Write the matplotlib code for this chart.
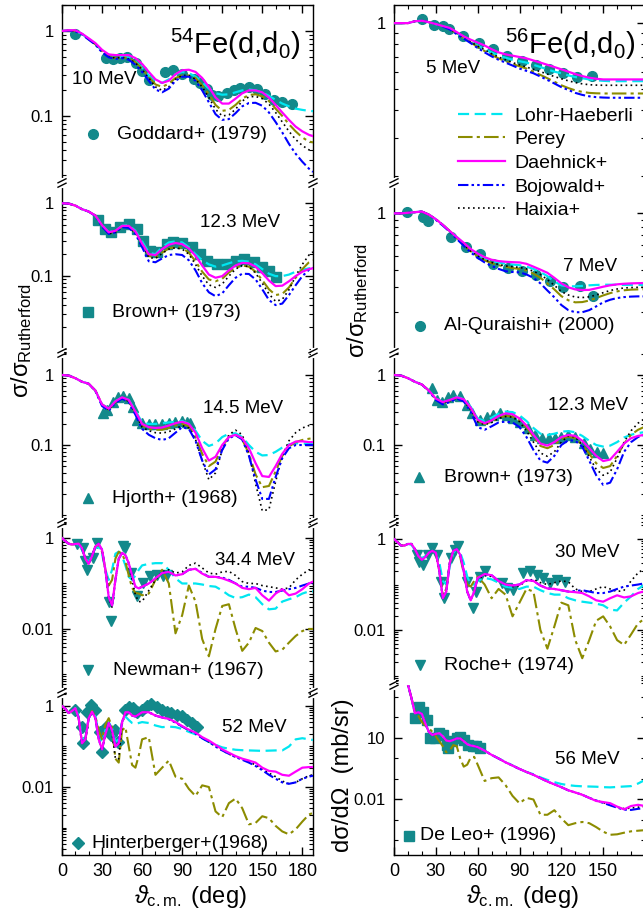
import numpy as np
import matplotlib
matplotlib.use("Agg")
import matplotlib.pyplot as plt
from matplotlib.lines import Line2D
from matplotlib.ticker import FixedLocator, FixedFormatter, LogLocator, NullFormatter, MultipleLocator

plt.rcParams['font.family'] = ['Liberation Sans', 'DejaVu Sans']
plt.rcParams['mathtext.fontset'] = 'custom'
plt.rcParams['mathtext.rm'] = 'Liberation Sans'
plt.rcParams['mathtext.it'] = 'Liberation Sans:italic'
plt.rcParams['mathtext.bf'] = 'Liberation Sans:bold'
plt.rcParams['axes.linewidth'] = 1.0

# ------------------------------------------------------------------ data
model_names = ["Lohr-Haeberli", "Perey", "Daehnick+", "Bojowald+", "Haixia+"]

ang_left = [0, 5, 10, 15, 20, 25, 30, 35, 40, 45, 50, 55, 60, 65, 70, 75, 80, 85, 90, 95,
            100, 105, 110, 115, 120, 125, 130, 135, 140, 145, 150, 155, 160, 165, 170, 175,
            180, 185, 188]
ang_right = [0, 5, 10, 15, 20, 25, 30, 35, 40, 45, 50, 55, 60, 65, 70, 75, 80, 85, 90, 95,
             100, 105, 110, 115, 120, 125, 130, 135, 140, 145, 150, 155, 160, 165, 170, 175, 180]
ang_left_fine = [0, 2.5, 5, 7.5, 10, 12.5, 15, 17.5, 20, 22.5, 25, 27.5, 30, 32.5, 35, 37.5, 40,
                 42.5, 45, 47.5, 50, 52.5, 55, 57.5, 60, 65, 70, 75, 80, 85, 90, 95, 100, 105,
                 110, 115, 120, 125, 130, 135, 140, 145, 150, 155, 160, 165, 170, 175, 180, 185, 188]
ang_right_fine = [0, 2.5, 5, 7.5, 10, 12.5, 15, 17.5, 20, 22.5, 25, 27.5, 30, 32.5, 35, 37.5, 40,
                  42.5, 45, 47.5, 50, 52.5, 55, 57.5, 60, 65, 70, 75, 80, 85, 90, 95, 100, 105,
                  110, 115, 120, 125, 130, 135, 140, 145, 150, 155, 160, 165, 170, 175, 180]

# --- 54Fe, 10 MeV
fe54_10_lohr = [1.0, 1.01, 1.0, 0.92, 0.8, 0.7, 0.58, 0.5, 0.49, 0.5, 0.49, 0.44, 0.37, 0.3, 0.255, 0.245, 0.27, 0.31, 0.33, 0.32,
                0.29, 0.25, 0.21, 0.185, 0.178, 0.18, 0.19, 0.2, 0.205, 0.2, 0.19, 0.172, 0.155, 0.14, 0.13, 0.122, 0.118, 0.115, 0.114]
fe54_10_perey = [1.0, 1.01, 1.0, 0.92, 0.8, 0.7, 0.58, 0.5, 0.48, 0.49, 0.48, 0.43, 0.36, 0.29, 0.235, 0.22, 0.24, 0.28, 0.3, 0.3,
                 0.28, 0.23, 0.18, 0.135, 0.115, 0.118, 0.135, 0.16, 0.177, 0.18, 0.17, 0.15, 0.122, 0.1, 0.08, 0.066, 0.056, 0.05, 0.049]
fe54_10_daeh = [1.0, 1.02, 1.02, 0.93, 0.82, 0.72, 0.6, 0.53, 0.52, 0.52, 0.52, 0.48, 0.41, 0.33, 0.27, 0.245, 0.26, 0.31, 0.345, 0.35,
                0.33, 0.28, 0.22, 0.165, 0.14, 0.14, 0.16, 0.185, 0.2, 0.2, 0.19, 0.165, 0.135, 0.11, 0.09, 0.075, 0.066, 0.06, 0.058]
fe54_10_boj = [1.0, 1.01, 0.99, 0.91, 0.79, 0.69, 0.56, 0.49, 0.47, 0.48, 0.46, 0.4, 0.33, 0.26, 0.205, 0.19, 0.21, 0.26, 0.29, 0.29,
               0.26, 0.2, 0.145, 0.105, 0.09, 0.092, 0.108, 0.13, 0.142, 0.143, 0.132, 0.11, 0.085, 0.064, 0.047, 0.036, 0.029, 0.024, 0.022]
fe54_10_hai = [1.0, 1.01, 1.0, 0.92, 0.8, 0.7, 0.57, 0.5, 0.48, 0.49, 0.47, 0.42, 0.35, 0.28, 0.22, 0.2, 0.22, 0.27, 0.3, 0.3,
               0.27, 0.22, 0.165, 0.12, 0.1, 0.103, 0.12, 0.15, 0.168, 0.17, 0.16, 0.138, 0.11, 0.085, 0.066, 0.053, 0.045, 0.04, 0.039]
fe54_10_exp_ang = [9.75, 33, 38.5, 43.5, 48.5, 55.5, 60, 65.5, 77, 83.5, 90, 98.5, 103.5, 108.5, 112, 117, 123.5,
                   128.5, 133.5, 140, 146, 152, 158.5, 165, 172]
fe54_10_exp_val = [0.93, 0.485, 0.47, 0.485, 0.494, 0.42, 0.335, 0.263, 0.33, 0.344, 0.315, 0.275, 0.244, 0.21, 0.175,
                   0.17, 0.186, 0.204, 0.215, 0.22, 0.21, 0.183, 0.156, 0.146, 0.137]

# --- 54Fe, 12.3 MeV
fe54_123_lohr = [1.0, 0.99, 0.93, 0.83, 0.77, 0.68, 0.5, 0.4, 0.42, 0.49, 0.5, 0.42, 0.3, 0.21, 0.2, 0.25, 0.29, 0.3, 0.29, 0.25,
                 0.2, 0.165, 0.145, 0.135, 0.14, 0.15, 0.16, 0.162, 0.158, 0.145, 0.125, 0.108, 0.1, 0.1, 0.105, 0.115, 0.122, 0.128, 0.13]
fe54_123_perey = [1.0, 0.99, 0.93, 0.83, 0.77, 0.68, 0.5, 0.39, 0.41, 0.48, 0.48, 0.4, 0.28, 0.19, 0.18, 0.21, 0.24, 0.25, 0.245, 0.21,
                  0.16, 0.115, 0.09, 0.085, 0.092, 0.112, 0.13, 0.14, 0.135, 0.115, 0.088, 0.066, 0.055, 0.057, 0.07, 0.095, 0.125, 0.155, 0.165]
fe54_123_daeh = [1.0, 0.99, 0.93, 0.83, 0.77, 0.68, 0.5, 0.4, 0.42, 0.49, 0.49, 0.41, 0.28, 0.2, 0.195, 0.235, 0.27, 0.285, 0.275, 0.24,
                 0.19, 0.14, 0.105, 0.095, 0.1, 0.12, 0.14, 0.152, 0.15, 0.135, 0.11, 0.087, 0.073, 0.074, 0.085, 0.1, 0.115, 0.125, 0.128]
fe54_123_boj = [1.0, 0.99, 0.93, 0.83, 0.77, 0.67, 0.48, 0.38, 0.4, 0.47, 0.46, 0.38, 0.25, 0.16, 0.155, 0.175, 0.195, 0.2, 0.195, 0.165,
                0.12, 0.08, 0.06, 0.053, 0.058, 0.075, 0.095, 0.108, 0.107, 0.09, 0.066, 0.047, 0.04, 0.042, 0.055, 0.075, 0.1, 0.122, 0.13]
fe54_123_hai = [1.0, 0.99, 0.93, 0.83, 0.77, 0.68, 0.49, 0.38, 0.4, 0.47, 0.47, 0.39, 0.27, 0.18, 0.175, 0.205, 0.235, 0.245, 0.235, 0.2,
                0.145, 0.1, 0.076, 0.07, 0.078, 0.1, 0.125, 0.14, 0.135, 0.11, 0.08, 0.057, 0.045, 0.048, 0.065, 0.1, 0.145, 0.195, 0.215]
fe54_123_exp_ang = [27, 32, 37, 43.5, 50, 56, 61, 66, 71, 78.5, 83.5, 90, 97, 103.5, 108.5, 116, 123.5, 130, 136, 143.5,
                    150, 155, 160]
fe54_123_exp_val = [0.585, 0.448, 0.40, 0.47, 0.526, 0.448, 0.308, 0.223, 0.212, 0.277, 0.292, 0.286, 0.249, 0.2, 0.162,
                    0.146, 0.146, 0.162, 0.171, 0.154, 0.135, 0.117, 0.098]

# --- 54Fe, 14.5 MeV
fe54_145_lohr = [1.0, 0.98, 0.9, 0.8, 0.75, 0.6, 0.38, 0.33, 0.42, 0.48, 0.44, 0.31, 0.21, 0.2, 0.2, 0.205, 0.21, 0.215, 0.22, 0.2,
                 0.16, 0.115, 0.097, 0.105, 0.13, 0.145, 0.147, 0.13, 0.1, 0.08, 0.071, 0.072, 0.08, 0.092, 0.102, 0.106, 0.105, 0.104, 0.104]
fe54_145_perey = [1.0, 0.98, 0.9, 0.8, 0.75, 0.6, 0.38, 0.32, 0.41, 0.47, 0.43, 0.29, 0.19, 0.17, 0.165, 0.165, 0.175, 0.19, 0.2, 0.185,
                  0.13, 0.075, 0.05, 0.058, 0.095, 0.13, 0.14, 0.12, 0.075, 0.038, 0.025, 0.026, 0.042, 0.07, 0.095, 0.11, 0.118, 0.123, 0.125]
fe54_145_daeh = [1.0, 0.98, 0.9, 0.8, 0.75, 0.6, 0.38, 0.33, 0.42, 0.48, 0.44, 0.3, 0.2, 0.18, 0.175, 0.178, 0.19, 0.205, 0.215, 0.2,
                 0.15, 0.09, 0.06, 0.068, 0.1, 0.13, 0.14, 0.125, 0.09, 0.055, 0.036, 0.035, 0.05, 0.075, 0.1, 0.112, 0.113, 0.11, 0.11]
fe54_145_boj = [1.0, 0.98, 0.9, 0.8, 0.75, 0.59, 0.36, 0.31, 0.4, 0.46, 0.41, 0.27, 0.17, 0.14, 0.125, 0.118, 0.125, 0.15, 0.18, 0.17,
                0.115, 0.06, 0.038, 0.045, 0.085, 0.125, 0.138, 0.12, 0.07, 0.032, 0.017, 0.017, 0.035, 0.065, 0.09, 0.1, 0.1, 0.1, 0.1]
fe54_145_hai = [1.0, 0.98, 0.9, 0.8, 0.75, 0.6, 0.37, 0.32, 0.41, 0.47, 0.42, 0.28, 0.18, 0.16, 0.15, 0.148, 0.155, 0.17, 0.19, 0.175,
                0.12, 0.06, 0.032, 0.04, 0.085, 0.14, 0.163, 0.14, 0.075, 0.028, 0.0115, 0.012, 0.03, 0.07, 0.115, 0.15, 0.175, 0.19, 0.195]
fe54_145_exp_ang = [31, 33.5, 38.5, 42, 46, 50, 53.5, 56.5, 60, 65, 70, 75, 80, 85, 90, 93.5, 96]
fe54_145_exp_val = [0.283, 0.316, 0.416, 0.48, 0.5, 0.464, 0.353, 0.228, 0.204, 0.2, 0.2, 0.2, 0.204, 0.215, 0.22, 0.215, 0.204]

# --- 54Fe, 34.4 MeV
fe54_344_lohr = [1.0, 0.85, 0.75, 0.72, 0.74, 0.72, 0.55, 0.35, 0.3, 0.42, 0.6, 0.65, 0.45, 0.2, 0.12, 0.2, 0.45, 0.5, 0.4, 0.25,
                 0.14, 0.12, 0.15, 0.2, 0.25,
                 0.27, 0.28, 0.28, 0.2, 0.13, 0.1, 0.1, 0.1, 0.095, 0.088, 0.085, 0.07, 0.055, 0.048, 0.05, 0.057, 0.05, 0.035,
                 0.027, 0.028, 0.04, 0.045, 0.05, 0.06, 0.067, 0.067]
fe54_344_perey = [1.0, 0.85, 0.75, 0.72, 0.74, 0.75, 0.6, 0.35, 0.27, 0.4, 0.65, 0.72, 0.5, 0.2, 0.09, 0.12, 0.35, 0.5, 0.45, 0.3,
                  0.15, 0.08, 0.062, 0.06, 0.055,
                  0.06, 0.12, 0.2, 0.1, 0.008, 0.02, 0.09, 0.04, 0.006, 0.0025, 0.01, 0.032, 0.035, 0.01, 0.0033, 0.005, 0.0105,
                  0.009, 0.005, 0.0032, 0.0035, 0.005, 0.007, 0.009, 0.01, 0.01]
fe54_344_daeh = [1.0, 0.85, 0.75, 0.72, 0.74, 0.75, 0.6, 0.35, 0.27, 0.4, 0.65, 0.75, 0.55, 0.2, 0.05, 0.033, 0.12, 0.35, 0.47, 0.42,
                 0.28, 0.15, 0.085, 0.078, 0.085,
                 0.1, 0.13, 0.17, 0.18, 0.15, 0.16, 0.2, 0.21, 0.165, 0.14, 0.14, 0.13, 0.115, 0.1, 0.08, 0.075, 0.08, 0.055,
                 0.042, 0.06, 0.075, 0.055, 0.06, 0.075, 0.1, 0.11]
fe54_344_boj = [1.0, 0.85, 0.75, 0.72, 0.74, 0.75, 0.6, 0.35, 0.27, 0.4, 0.65, 0.75, 0.55, 0.2, 0.05, 0.033, 0.12, 0.35, 0.47, 0.42,
                0.28, 0.15, 0.085, 0.078, 0.085,
                0.1, 0.13, 0.17, 0.18, 0.15, 0.16, 0.2, 0.21, 0.17, 0.14, 0.14, 0.135, 0.12, 0.1, 0.085, 0.085, 0.08, 0.07,
                0.065, 0.065, 0.07, 0.075, 0.08, 0.09, 0.1, 0.1]
fe54_344_hai = [1.0, 0.85, 0.75, 0.72, 0.74, 0.75, 0.6, 0.35, 0.26, 0.4, 0.65, 0.75, 0.55, 0.2, 0.045, 0.03, 0.12, 0.35, 0.47, 0.42,
                0.25, 0.12, 0.055, 0.04, 0.04,
                0.07, 0.12, 0.18, 0.2, 0.17, 0.18, 0.25, 0.28, 0.22, 0.17, 0.16, 0.18, 0.185, 0.15, 0.11, 0.1, 0.1, 0.09,
                0.085, 0.08, 0.075, 0.08, 0.12, 0.16, 0.2, 0.2]
fe54_344_exp_ang = [11.5, 16, 17, 19, 23, 26, 35, 37, 45.5, 47, 52, 56, 61, 66, 71, 76, 78.5]
fe54_344_exp_val = [0.75, 0.6, 0.307, 0.2, 0.363, 0.776, 0.04, 0.0147, 0.656, 0.6, 0.17, 0.052, 0.1, 0.144, 0.156, 0.144, 0.156]

# --- 54Fe, 52 MeV
fe54_52_lohr = [1.0, 0.85, 0.67, 0.75, 0.88, 0.55, 0.15, 0.17, 0.5, 0.7, 0.55, 0.2, 0.12, 0.25, 0.4, 0.28, 0.13, 0.15, 0.4, 0.55,
                0.45, 0.38, 0.36, 0.38, 0.4,
                0.38, 0.33, 0.3, 0.31, 0.3, 0.27, 0.23, 0.2, 0.16, 0.13, 0.11, 0.095, 0.088, 0.083, 0.081, 0.08, 0.079, 0.078,
                0.079, 0.08, 0.08, 0.1, 0.15, 0.16, 0.15, 0.145]
fe54_52_perey = [1.0, 0.85, 0.67, 0.75, 0.88, 0.5, 0.12, 0.15, 0.5, 0.75, 0.55, 0.25, 0.15, 0.35, 0.5, 0.3, 0.05, 0.04, 0.25, 0.3,
                 0.1, 0.035, 0.03, 0.06, 0.15,
                 0.17, 0.02, 0.03, 0.045, 0.018, 0.016, 0.009, 0.006, 0.011, 0.01, 0.0025, 0.0018, 0.004, 0.0052, 0.003, 0.0012,
                 0.0013, 0.0019, 0.0017, 0.0011, 0.0008, 0.00068, 0.0009, 0.0014, 0.0021, 0.0023]
fe54_52_daeh = [1.0, 0.85, 0.67, 0.75, 0.88, 0.5, 0.12, 0.15, 0.5, 0.72, 0.5, 0.15, 0.085, 0.2, 0.38, 0.25, 0.1, 0.12, 0.4, 0.7,
                0.7, 0.58, 0.55, 0.62, 0.7,
                0.7, 0.58, 0.52, 0.48, 0.4, 0.32, 0.26, 0.22, 0.17, 0.14, 0.11, 0.085, 0.07, 0.058, 0.05, 0.045, 0.04, 0.03,
                0.025, 0.024, 0.02, 0.019, 0.024, 0.03, 0.031, 0.031]
fe54_52_boj = [1.0, 0.85, 0.67, 0.75, 0.88, 0.5, 0.12, 0.15, 0.5, 0.72, 0.5, 0.15, 0.085, 0.2, 0.38, 0.25, 0.1, 0.12, 0.4, 0.7,
               0.7, 0.58, 0.55, 0.62, 0.7,
               0.7, 0.58, 0.52, 0.47, 0.39, 0.31, 0.25, 0.21, 0.16, 0.13, 0.1, 0.08, 0.066, 0.055, 0.047, 0.04, 0.033, 0.026,
               0.02, 0.016, 0.013, 0.012, 0.013, 0.016, 0.018, 0.019]
fe54_52_hai = [1.0, 0.85, 0.67, 0.75, 0.88, 0.5, 0.12, 0.15, 0.5, 0.72, 0.5, 0.15, 0.08, 0.2, 0.38, 0.22, 0.05, 0.05, 0.35, 0.68,
               0.7, 0.58, 0.55, 0.62, 0.7,
               0.7, 0.58, 0.52, 0.47, 0.39, 0.31, 0.25, 0.21, 0.16, 0.13, 0.1, 0.08, 0.065, 0.055, 0.048, 0.042, 0.035, 0.028,
               0.022, 0.018, 0.014, 0.012, 0.013, 0.016, 0.019, 0.02]
fe54_52_exp_ang = [10, 15, 15.5, 19, 21.5, 25, 28.5, 30, 33, 37, 40, 42, 47, 50, 53, 56, 60, 63.5, 67, 71, 75, 78.5,
                   82, 86, 90, 93.5, 97, 101]
fe54_52_exp_val = [0.8, 0.31, 0.12, 0.72, 1.06, 0.8, 0.23, 0.075, 0.31, 0.19, 0.26, 0.13, 0.8, 0.96, 0.88, 0.72, 0.8, 1.0,
                   1.1, 0.93, 0.8, 0.72, 0.66, 0.6, 0.55, 0.45, 0.375, 0.31]

# --- 56Fe, 5 MeV
fe56_5_lohr = [1.0, 1.0, 1.0, 1.02, 1.025, 1.01, 0.99, 0.97, 0.94, 0.9, 0.86, 0.82, 0.79, 0.76, 0.735, 0.71, 0.695, 0.68, 0.67,
               0.66, 0.645, 0.63, 0.615, 0.6, 0.59, 0.577, 0.567, 0.56, 0.553, 0.548, 0.545, 0.543, 0.543, 0.543, 0.543, 0.543, 0.543]
fe56_5_perey = [1.0, 1.0, 1.0, 1.02, 1.025, 1.01, 0.99, 0.97, 0.94, 0.9, 0.855, 0.815, 0.78, 0.745, 0.715, 0.69, 0.67, 0.65, 0.635,
                0.62, 0.6, 0.58, 0.56, 0.54, 0.52, 0.505, 0.493, 0.485, 0.48, 0.478, 0.477, 0.477, 0.477, 0.477, 0.477, 0.477, 0.477]
fe56_5_daeh = [1.0, 1.0, 1.0, 1.02, 1.025, 1.01, 0.99, 0.97, 0.95, 0.91, 0.87, 0.84, 0.815, 0.79, 0.76, 0.735, 0.72, 0.71, 0.7,
               0.69, 0.675, 0.66, 0.645, 0.63, 0.615, 0.6, 0.585, 0.573, 0.563, 0.557, 0.553, 0.553, 0.553, 0.553, 0.553, 0.553, 0.553]
fe56_5_boj = [1.0, 1.0, 1.0, 1.02, 1.025, 1.01, 0.99, 0.965, 0.935, 0.89, 0.85, 0.81, 0.77, 0.735, 0.705, 0.68, 0.66, 0.64, 0.62,
              0.605, 0.59, 0.57, 0.55, 0.53, 0.51, 0.495, 0.48, 0.47, 0.463, 0.459, 0.457, 0.456, 0.456, 0.456, 0.456, 0.456, 0.456]
fe56_5_hai = [1.0, 1.0, 1.0, 1.02, 1.025, 1.01, 0.99, 0.97, 0.94, 0.9, 0.86, 0.82, 0.785, 0.755, 0.725, 0.7, 0.68, 0.66, 0.645,
              0.63, 0.615, 0.6, 0.585, 0.57, 0.557, 0.545, 0.535, 0.528, 0.523, 0.521, 0.52, 0.52, 0.52, 0.52, 0.52, 0.52, 0.52]
fe56_5_exp_ang = [19.9, 28.7, 35, 39.7, 49.8, 61, 70.8, 81.3, 91.6, 101.9, 111.5, 121.5, 131, 141.9]
fe56_5_exp_val = [1.04, 0.979, 0.969, 0.936, 0.872, 0.808, 0.758, 0.707, 0.67, 0.643, 0.617, 0.593, 0.569, 0.573]

# --- 56Fe, 7 MeV
fe56_7_lohr = [1.0, 1.0, 1.01, 1.02, 1.03, 0.98, 0.91, 0.83, 0.75, 0.68, 0.61, 0.55, 0.51, 0.48, 0.46, 0.45, 0.44, 0.435, 0.43,
               0.42, 0.405, 0.385, 0.36, 0.33, 0.31, 0.305, 0.305, 0.307, 0.31, 0.312, 0.313, 0.313, 0.313, 0.312, 0.312, 0.312, 0.312]
fe56_7_perey = [1.0, 1.0, 1.01, 1.02, 1.03, 0.98, 0.91, 0.83, 0.75, 0.67, 0.6, 0.54, 0.495, 0.465, 0.445, 0.43, 0.42, 0.41, 0.405,
                0.395, 0.375, 0.35, 0.32, 0.29, 0.26, 0.243, 0.235, 0.236, 0.242, 0.252, 0.263, 0.273, 0.281, 0.286, 0.289, 0.29, 0.291]
fe56_7_daeh = [1.0, 1.0, 1.01, 1.02, 1.03, 0.98, 0.91, 0.83, 0.75, 0.68, 0.62, 0.56, 0.52, 0.49, 0.47, 0.46, 0.455, 0.452, 0.45,
               0.44, 0.42, 0.4, 0.38, 0.35, 0.32, 0.3, 0.29, 0.287, 0.288, 0.295, 0.303, 0.31, 0.315, 0.318, 0.32, 0.321, 0.322]
fe56_7_boj = [1.0, 1.0, 1.01, 1.02, 1.03, 0.98, 0.9, 0.82, 0.74, 0.66, 0.59, 0.53, 0.485, 0.45, 0.425, 0.405, 0.39, 0.385, 0.383,
              0.37, 0.35, 0.32, 0.285, 0.255, 0.225, 0.207, 0.2, 0.2, 0.207, 0.22, 0.235, 0.245, 0.252, 0.256, 0.258, 0.259, 0.259]
fe56_7_hai = [1.0, 1.0, 1.01, 1.02, 1.03, 0.98, 0.91, 0.83, 0.75, 0.67, 0.6, 0.54, 0.5, 0.47, 0.45, 0.435, 0.425, 0.42, 0.415,
              0.405, 0.39, 0.37, 0.34, 0.31, 0.28, 0.265, 0.256, 0.254, 0.257, 0.265, 0.275, 0.285, 0.292, 0.297, 0.299, 0.3, 0.3]
fe56_7_exp_ang = [9.1, 20.6, 24.6, 40.7, 51.4, 61.7, 71.3, 82, 91.6, 101.9, 112, 121.5, 133.5, 142.6]
fe56_7_exp_val = [1.03, 0.947, 0.88, 0.68, 0.578, 0.518, 0.44, 0.409, 0.394, 0.367, 0.334, 0.304, 0.307, 0.261]

# --- 56Fe, 12.3 MeV
fe56_123_lohr = [1.0, 0.98, 0.9, 0.8, 0.73, 0.6, 0.46, 0.41, 0.44, 0.48, 0.46, 0.35, 0.24, 0.22, 0.245, 0.28, 0.3, 0.295, 0.265,
                 0.22, 0.175, 0.145, 0.139, 0.145, 0.155, 0.158, 0.152, 0.135, 0.115, 0.1, 0.095, 0.098, 0.11, 0.128, 0.14, 0.148, 0.153]
fe56_123_perey = [1.0, 0.98, 0.9, 0.8, 0.73, 0.6, 0.45, 0.4, 0.43, 0.47, 0.44, 0.33, 0.22, 0.2, 0.215, 0.245, 0.26, 0.255, 0.225,
                  0.18, 0.13, 0.097, 0.09, 0.1, 0.122, 0.132, 0.125, 0.1, 0.075, 0.055, 0.047, 0.05, 0.07, 0.105, 0.14, 0.165, 0.183]
fe56_123_daeh = [1.0, 0.98, 0.9, 0.8, 0.73, 0.6, 0.46, 0.41, 0.44, 0.48, 0.45, 0.34, 0.23, 0.205, 0.225, 0.26, 0.283, 0.275, 0.24,
                 0.19, 0.14, 0.105, 0.098, 0.11, 0.13, 0.139, 0.135, 0.115, 0.09, 0.07, 0.059, 0.062, 0.08, 0.105, 0.125, 0.135, 0.14]
fe56_123_boj = [1.0, 0.98, 0.9, 0.8, 0.73, 0.59, 0.44, 0.38, 0.41, 0.46, 0.42, 0.3, 0.18, 0.165, 0.185, 0.21, 0.216, 0.21, 0.18,
                0.13, 0.085, 0.06, 0.056, 0.07, 0.1, 0.117, 0.115, 0.095, 0.06, 0.037, 0.027, 0.029, 0.045, 0.08, 0.11, 0.13, 0.14]
fe56_123_hai = [1.0, 0.98, 0.9, 0.8, 0.73, 0.6, 0.45, 0.4, 0.43, 0.47, 0.43, 0.32, 0.215, 0.195, 0.21, 0.24, 0.255, 0.25, 0.215,
                0.16, 0.11, 0.077, 0.069, 0.08, 0.11, 0.135, 0.13, 0.1, 0.068, 0.045, 0.037, 0.041, 0.065, 0.11, 0.16, 0.205, 0.24]
fe56_123_exp_ang = [27, 30.6, 34.2, 39, 42.6, 47.4, 52.2, 55.7, 61.7, 66.5, 71.3, 76, 81, 85.6, 90.4, 96.4, 101, 106,
                    110.8, 115.5, 120, 125, 130, 136, 140.7, 145.5, 150]
fe56_123_exp_val = [0.645, 0.44, 0.416, 0.49, 0.518, 0.501, 0.373, 0.283, 0.228, 0.254, 0.268, 0.283, 0.268, 0.24, 0.215,
                    0.173, 0.139, 0.125, 0.125, 0.125, 0.132, 0.139, 0.132, 0.106, 0.087, 0.08, 0.076]

# --- 56Fe, 30 MeV
fe56_30_lohr = [1.0, 0.85, 0.72, 0.72, 0.78, 0.75, 0.58, 0.42, 0.38, 0.42, 0.5, 0.55, 0.5, 0.3, 0.12, 0.1, 0.25, 0.5, 0.6, 0.5,
                0.3, 0.15, 0.1, 0.1, 0.12,
                0.14, 0.13, 0.11, 0.09, 0.085, 0.08, 0.09, 0.09, 0.075, 0.065, 0.06, 0.06, 0.05, 0.045, 0.042, 0.04, 0.038,
                0.035, 0.028, 0.027, 0.04, 0.055, 0.08, 0.1]
fe56_30_perey = [1.0, 0.85, 0.72, 0.72, 0.78, 0.78, 0.6, 0.42, 0.35, 0.4, 0.5, 0.55, 0.5, 0.2, 0.06, 0.08, 0.3, 0.55, 0.6, 0.4,
                 0.18, 0.1, 0.09, 0.12, 0.15,
                 0.1, 0.05, 0.08, 0.06, 0.02, 0.04, 0.08, 0.07, 0.01, 0.0039, 0.012, 0.04, 0.035, 0.006, 0.0024, 0.006, 0.016,
                 0.02, 0.012, 0.006, 0.0047, 0.008, 0.014, 0.018]
fe56_30_daeh = [1.0, 0.85, 0.72, 0.72, 0.78, 0.78, 0.6, 0.42, 0.35, 0.4, 0.5, 0.55, 0.5, 0.2, 0.05, 0.07, 0.3, 0.55, 0.6, 0.45,
                0.2, 0.07, 0.045, 0.07, 0.14,
                0.17, 0.16, 0.12, 0.1, 0.095, 0.1, 0.125, 0.12, 0.095, 0.082, 0.08, 0.075, 0.07, 0.068, 0.065, 0.055, 0.045,
                0.042, 0.05, 0.058, 0.052, 0.055, 0.065, 0.072]
fe56_30_boj = [1.0, 0.85, 0.72, 0.72, 0.78, 0.78, 0.6, 0.42, 0.35, 0.4, 0.5, 0.55, 0.5, 0.2, 0.05, 0.07, 0.3, 0.55, 0.6, 0.45,
               0.2, 0.07, 0.045, 0.07, 0.14,
               0.17, 0.16, 0.12, 0.1, 0.095, 0.1, 0.125, 0.12, 0.095, 0.082, 0.08, 0.075, 0.07, 0.072, 0.075, 0.07, 0.065,
               0.065, 0.07, 0.08, 0.09, 0.095, 0.1, 0.107]
fe56_30_hai = [1.0, 0.85, 0.72, 0.72, 0.78, 0.78, 0.6, 0.42, 0.35, 0.4, 0.5, 0.55, 0.5, 0.2, 0.05, 0.07, 0.3, 0.55, 0.6, 0.45,
               0.2, 0.07, 0.045, 0.07, 0.13,
               0.16, 0.15, 0.12, 0.1, 0.09, 0.095, 0.12, 0.13, 0.11, 0.1, 0.11, 0.12, 0.115, 0.08, 0.07, 0.07, 0.08,
               0.09, 0.08, 0.07, 0.075, 0.12, 0.18, 0.23]
fe56_30_exp_ang = [16.3, 18.2, 21, 24.6, 27, 31, 33.5, 35.9, 40.7, 43.8, 46.2, 52.2, 56.5, 58.9, 61.7, 65.3, 77.3, 80.9,
                   85.6, 92.8, 97.6, 102.4, 107.2, 112, 116.7, 122.7]
fe56_30_exp_val = [0.45, 0.32, 0.27, 0.45, 0.63, 0.45, 0.116, 0.05, 0.38, 0.58, 0.69, 0.116, 0.03, 0.07, 0.15, 0.194, 0.107,
                   0.083, 0.076, 0.178, 0.194, 0.163, 0.138, 0.107, 0.127, 0.116]

# --- 56Fe, 56 MeV (absolute, mb/sr)
fe56_56_lohr = [1e4, 1e4, 1e4, 1e4, 4000, 900, 160, 180, 150, 50, 20, 14, 16, 17, 12, 7.5, 7, 8, 9.5, 9.5, 7, 5, 4.3, 4, 3.6,
                2.4, 1.5, 1.0, 0.68, 0.46, 0.3, 0.22, 0.17, 0.12, 0.09, 0.07, 0.057, 0.05, 0.046, 0.044, 0.043, 0.042, 0.04,
                0.039, 0.041, 0.043, 0.045, 0.06, 0.09]
fe56_56_perey = [1e4, 1e4, 1e4, 1e4, 4000, 900, 200, 120, 60, 40, 30, 20, 12, 7, 4, 2, 2.5, 4.5, 4, 1, 0.4, 0.5, 1.1, 1.2, 0.5,
                 0.08, 0.11, 0.12, 0.05, 0.015, 0.0065, 0.012, 0.01, 0.0018, 0.0018, 0.003, 0.0012, 0.00056, 0.0007, 0.0008,
                 0.0007, 0.00045, 0.00027, 0.00019, 0.0002, 0.00024, 0.00028, 0.0003, 0.00032]
fe56_56_daeh = [1e4, 1e4, 1e4, 1e4, 4000, 900, 160, 180, 150, 50, 20, 14, 16, 17, 12, 7.5, 7, 8, 9.5, 9.5, 7, 5, 4.3, 4, 3.6,
                2.4, 1.5, 1.0, 0.65, 0.45, 0.31, 0.22, 0.16, 0.11, 0.075, 0.055, 0.04, 0.028, 0.022, 0.017, 0.012, 0.0085,
                0.0075, 0.0066, 0.0045, 0.0033, 0.0048, 0.0055, 0.0048]
fe56_56_boj = [1e4, 1e4, 1e4, 1e4, 4000, 900, 160, 180, 150, 50, 20, 14, 16, 17, 12, 7.5, 7, 8, 9.5, 9.5, 7, 5, 4.3, 4, 3.6,
               2.4, 1.5, 1.0, 0.65, 0.45, 0.31, 0.22, 0.16, 0.11, 0.075, 0.055, 0.04, 0.028, 0.022, 0.017, 0.012, 0.009,
               0.0068, 0.0052, 0.004, 0.0032, 0.0031, 0.0035, 0.0038]
fe56_56_hai = [1e4, 1e4, 1e4, 1e4, 4000, 900, 160, 180, 150, 50, 20, 14, 16, 17, 12, 7.5, 7, 8, 9.5, 9.5, 7, 5, 4.3, 4, 3.6,
               2.4, 1.5, 1.0, 0.65, 0.45, 0.31, 0.22, 0.16, 0.11, 0.075, 0.055, 0.04, 0.028, 0.022, 0.017, 0.012, 0.009,
               0.007, 0.0055, 0.0042, 0.0036, 0.0038, 0.0042, 0.0045]
fe56_56_exp_ang = [15, 18, 21, 24, 26, 29.4, 32.5, 35.4, 37.8, 39, 41.4, 45, 47.4, 50, 53.3, 56.5, 59, 62]
fe56_56_exp_val = [92, 335, 190, 76, 10, 10, 17.4, 14.5, 4.8, 3.3, 6.9, 10, 11, 8.3, 4.8, 4, 4.3, 3.3]

energy_labels = ["10 MeV", "12.3 MeV", "14.5 MeV", "34.4 MeV", "52 MeV",
                 "5 MeV", "7 MeV", "12.3 MeV", "30 MeV", "56 MeV"]
exp_labels = ["Goddard+ (1979)", "Brown+ (1973)", "Hjorth+ (1968)", "Newman+ (1967)", "Hinterberger+(1968)",
              "Al-Quraishi+ (2000)", "Brown+ (1973)", "Roche+ (1974)", "De Leo+ (1996)"]

# ------------------------------------------------------------------ figure
W, H = 643, 914
fig = plt.figure(figsize=(W / 100, H / 100), dpi=100)

TEAL = '#13898b'
styles = {
    'lohr': dict(color='#00e6f0', lw=1.6, dashes=(5, 2.5), zorder=3),
    'perey': dict(color='#8c8c00', lw=1.5, dashes=(7, 2, 1.5, 2), zorder=3),
    'hai': dict(color='black', lw=1.2, dashes=(1, 2), zorder=4),
    'boj': dict(color='#0000ff', lw=1.5, dashes=(5, 1.5, 1.2, 1.5, 1.2, 1.5), zorder=5),
    'daeh': dict(color='#ff00ff', lw=1.6, ls='-', zorder=6),
}
order = ['lohr', 'perey', 'hai', 'boj', 'daeh']

panels = [
    (62, 5, 183, 188, (0.0163, 2.02), [1, 0.1], ['1', '0.1'], 'all', ang_left,
     dict(lohr=fe54_10_lohr, perey=fe54_10_perey, daeh=fe54_10_daeh, boj=fe54_10_boj, hai=fe54_10_hai),
     (fe54_10_exp_ang, fe54_10_exp_val), 'o', 7, 0, (0.04, 0.58), 0, (0.124, 0.275), (0.22, 0.275)),
    (62, 183, 353, 188, (0.0088, 1.9), [1, 0.1], ['1', '0.1'], 'all', ang_left,
     dict(lohr=fe54_123_lohr, perey=fe54_123_perey, daeh=fe54_123_daeh, boj=fe54_123_boj, hai=fe54_123_hai),
     (fe54_123_exp_ang, fe54_123_exp_val), 's', 6.5, 1, (0.55, 0.765), 1, (0.104, 0.241), (0.2, 0.241)),
    (62, 353, 523, 188, (0.0077, 2.06), [1, 0.1], ['1', '0.1'], 'all', ang_left,
     dict(lohr=fe54_145_lohr, perey=fe54_145_perey, daeh=fe54_145_daeh, boj=fe54_145_boj, hai=fe54_145_hai),
     (fe54_145_exp_ang, fe54_145_exp_val), '^', 7.5, 2, (0.562, 0.676), 2, (0.104, 0.147), (0.2, 0.147)),
    (62, 523, 693, 188, (3.9e-4, 2.14), [1, 0.01], ['1', '0.01'], 'all', ang_left_fine,
     dict(lohr=fe54_344_lohr, perey=fe54_344_perey, daeh=fe54_344_daeh, boj=fe54_344_boj, hai=fe54_344_hai),
     (fe54_344_exp_ang, fe54_344_exp_val), 'v', 7.5, 3, (0.61, 0.782), 3, (0.104, 0.135), (0.205, 0.135)),
    (62, 693, 855, 188, (2.1e-4, 2.09), [1, 0.01], ['1', '0.01'], 'all', ang_left_fine,
     dict(lohr=fe54_52_lohr, perey=fe54_52_perey, daeh=fe54_52_daeh, boj=fe54_52_boj, hai=fe54_52_hai),
     (fe54_52_exp_ang, fe54_52_exp_val), 'D', 6, 4, (0.637, 0.79), 4, (0.064, 0.074), (0.118, 0.074)),
    (394, 5, 183, 180, (0.186, 1.21), [1], ['1'], 'all', ang_right,
     dict(lohr=fe56_5_lohr, perey=fe56_5_perey, daeh=fe56_5_daeh, boj=fe56_5_boj, hai=fe56_5_hai),
     (fe56_5_exp_ang, fe56_5_exp_val), 'o', 7, 5, (0.127, 0.646), None, None, None),
    (394, 183, 353, 180, (0.103, 1.64), [1], ['1'], 'all', ang_right,
     dict(lohr=fe56_7_lohr, perey=fe56_7_perey, daeh=fe56_7_daeh, boj=fe56_7_boj, hai=fe56_7_hai),
     (fe56_7_exp_ang, fe56_7_exp_val), 'o', 7, 6, (0.673, 0.51), 5, (0.104, 0.16), (0.2, 0.16)),
    (394, 353, 523, 180, (0.0077, 2.06), [1, 0.1], ['1', '0.1'], 'all', ang_right,
     dict(lohr=fe56_123_lohr, perey=fe56_123_perey, daeh=fe56_123_daeh, boj=fe56_123_boj, hai=fe56_123_hai),
     (fe56_123_exp_ang, fe56_123_exp_val), '^', 7.5, 7, (0.614, 0.694), 6, (0.1, 0.27), (0.2, 0.27)),
    (394, 523, 685, 180, (6.2e-4, 2.25), [1, 0.01], ['1', '0.01'], 'all', ang_right_fine,
     dict(lohr=fe56_30_lohr, perey=fe56_30_perey, daeh=fe56_30_daeh, boj=fe56_30_boj, hai=fe56_30_hai),
     (fe56_30_exp_ang, fe56_30_exp_val), 'v', 7.5, 8, (0.641, 0.82), 7, (0.104, 0.123), (0.2, 0.123)),
    (394, 685, 855, 180, (1.96e-5, 3850), [10, 0.01], ['10', '0.01'], 'dec', ang_right_fine,
     dict(lohr=fe56_56_lohr, perey=fe56_56_perey, daeh=fe56_56_daeh, boj=fe56_56_boj, hai=fe56_56_hai),
     (fe56_56_exp_ang, fe56_56_exp_val), 's', 6.5, 9, (0.641, 0.56), 8, (0.06, 0.112), (0.105, 0.112)),
]

PW = 251
for i, (x0, top, bot, xmax, ylim, maj, majlab, subs, angs, curves, exp, mk, ms, ei, epos, xi, mpos, tpos) in enumerate(panels):
    ax = fig.add_axes([x0 / W, 1 - bot / H, PW / W, (bot - top) / H])
    ax.patch.set_alpha(0)
    ax.set_yscale('log')
    ax.set_xlim(0, xmax)
    ax.set_ylim(*ylim)
    ax.plot(exp[0], exp[1], ls='none', marker=mk, ms=ms, color=TEAL, mec=TEAL, zorder=2)
    for key in order:
        ax.plot(angs, curves[key], **styles[key])
    ax.yaxis.set_major_locator(FixedLocator(maj))
    ax.yaxis.set_major_formatter(FixedFormatter(majlab))
    if subs == 'all':
        ax.yaxis.set_minor_locator(LogLocator(base=10, subs=np.arange(1.0, 10.0), numticks=100))
    else:
        ax.yaxis.set_minor_locator(LogLocator(base=10, subs=(1.0,), numticks=100))
    ax.yaxis.set_minor_formatter(NullFormatter())
    ax.tick_params(axis='y', which='both', direction='in', left=True, right=True, labelsize=12, pad=6)
    ax.tick_params(axis='y', which='major', length=6, width=1)
    ax.tick_params(axis='y', which='minor', length=3, width=0.8)
    is_top = top == 5
    is_bot = bot == 855
    ax.xaxis.set_major_locator(FixedLocator([0, 30, 60, 90, 120, 150, 180] if xmax > 185 else [0, 30, 60, 90, 120, 150]))
    ax.xaxis.set_minor_locator(MultipleLocator(10))
    ax.tick_params(axis='x', which='both', direction='in', top=is_top, bottom=is_bot,
                   labelbottom=is_bot, labeltop=False, labelsize=13, pad=6)
    ax.tick_params(axis='x', which='major', length=6, width=1)
    ax.tick_params(axis='x', which='minor', length=3, width=0.8)
    ax.spines['top'].set_visible(is_top)
    ax.spines['bottom'].set_visible(is_bot)
    ax.text(epos[0], epos[1], energy_labels[ei], transform=ax.transAxes, fontsize=13.5, ha='left', va='center')
    if xi is not None:
        ax.plot([mpos[0]], [mpos[1]], ls='none', marker=mk, ms=ms, color=TEAL, transform=ax.transAxes, clip_on=False)
        ax.text(tpos[0], tpos[1], exp_labels[xi], transform=ax.transAxes, fontsize=14, ha='left', va='center')
    if i == 0:
        ax.text(0.95, 0.78, r'$^{54}$Fe(d,d$_0$)', transform=ax.transAxes, fontsize=21, ha='right', va='center')
    if i == 5:
        ax.text(0.96, 0.78, r'$^{56}$Fe(d,d$_0$)', transform=ax.transAxes, fontsize=21, ha='right', va='center')


# break marks at panel joins
def brk(xp, yp):
    fig.add_artist(Line2D([xp / W, xp / W], [1 - (yp - 3) / H, 1 - (yp + 3) / H], color='white', lw=3,
                          transform=fig.transFigure, zorder=20))
    for dy in (-2.2, 2.2):
        fig.add_artist(Line2D([(xp - 4) / W, (xp + 4) / W], [1 - (yp + dy + 2) / H, 1 - (yp + dy - 2) / H],
                              color='black', lw=1, transform=fig.transFigure, zorder=21))


for yp in (183, 353, 523, 693):
    brk(62, yp)
    brk(313, yp)
for yp in (183, 353, 523, 685):
    brk(394, yp)

# legend
handles = [Line2D([], [], **{k: v for k, v in styles[key].items() if k != 'zorder'}) for key in
           ['lohr', 'perey', 'daeh', 'boj', 'hai']]
fig.legend(handles, model_names, loc='upper left', bbox_to_anchor=(458 / W, 1 - 107 / H), frameon=False,
           fontsize=14, handlelength=2.4, handletextpad=0.5, labelspacing=0.31, borderpad=0, borderaxespad=0)

# axis labels
fig.text(22 / W, 1 - 340 / H, r'σ/σ$_{\mathrm{Rutherford}}$', rotation=90, ha='center', va='center', fontsize=17)
fig.text(358 / W, 1 - 300 / H, r'σ/σ$_{\mathrm{Rutherford}}$', rotation=90, ha='center', va='center', fontsize=17)
fig.text(343 / W, 1 - 775 / H, 'dσ/dΩ  (mb/sr)', rotation=90, ha='center', va='center', fontsize=17)
fig.text(190 / W, 1 - 896 / H, r'$\vartheta_{\mathrm{c.m.}}$ (deg)', ha='center', va='center', fontsize=17)
fig.text(522 / W, 1 - 896 / H, r'$\vartheta_{\mathrm{c.m.}}$ (deg)', ha='center', va='center', fontsize=17)

fig.savefig('out.png', dpi=100)
